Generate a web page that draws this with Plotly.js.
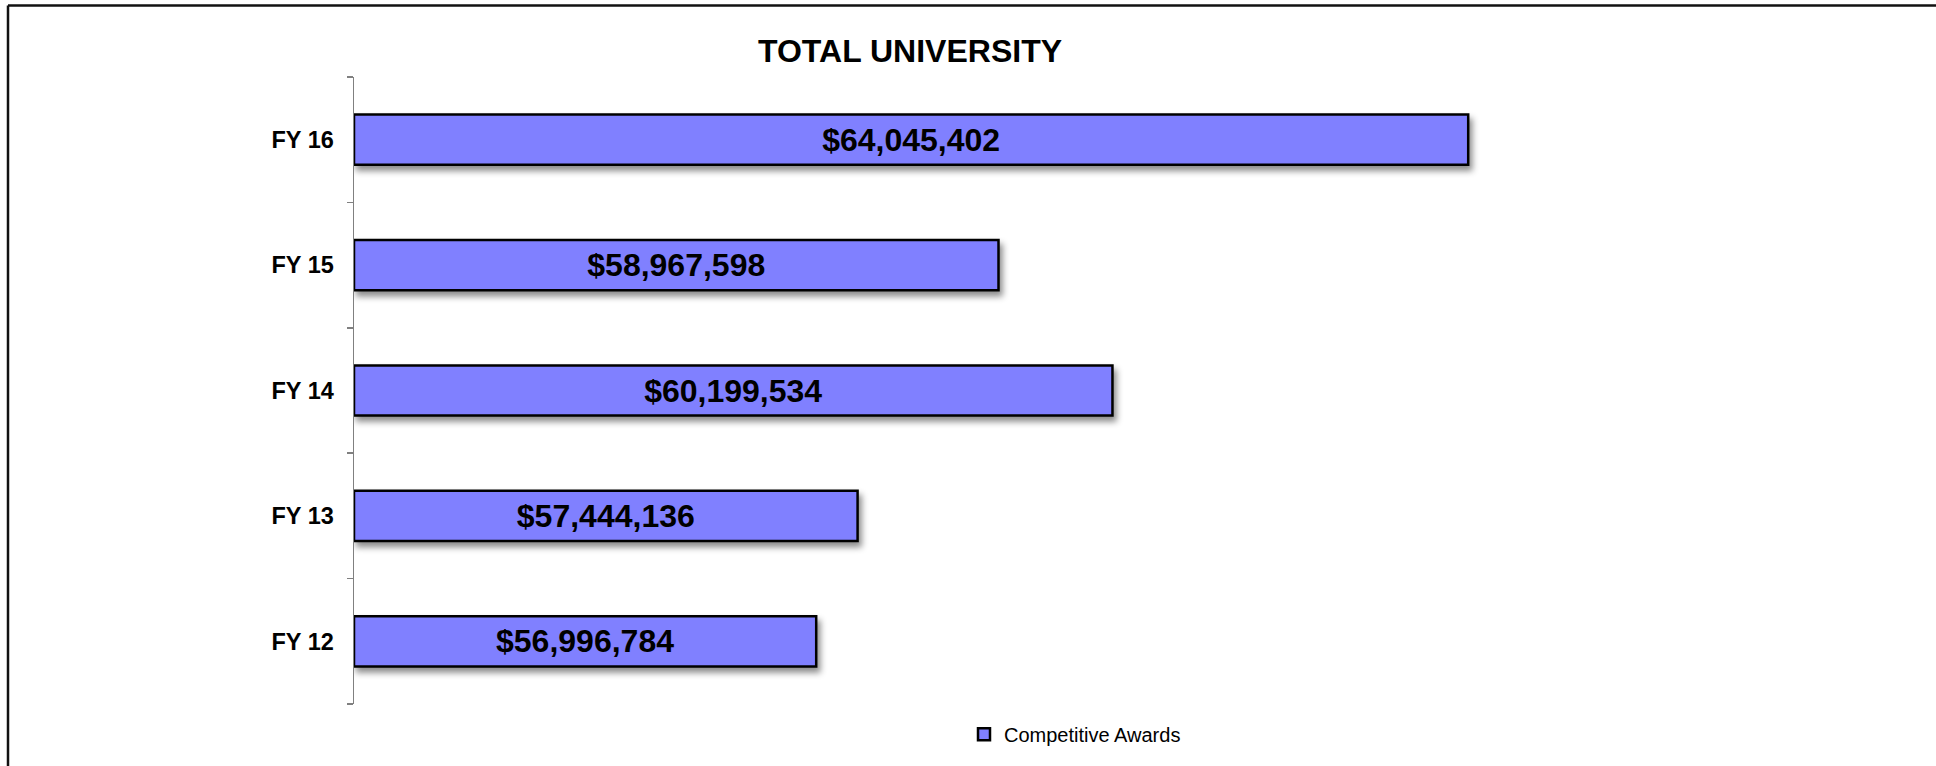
<!DOCTYPE html>
<html>
<head>
<meta charset="utf-8">
<script src="https://cdn.plot.ly/plotly-3.0.1.min.js"></script>
<style>
  html, body { margin: 0; padding: 0; background: #fff; }
  #chart { width: 1936px; height: 766px; }
  .barlayer .point path { filter: drop-shadow(3px 5px 3px rgba(0,0,0,0.45)); }
</style>
</head>
<body>
<div id="chart"></div>
<script>
const categories = ['FY 12', 'FY 13', 'FY 14', 'FY 15', 'FY 16'];
const competitiveAwards = [56996784, 57444136, 60199534, 58967598, 64045402];
const seriesName = 'Competitive Awards';
const chartTitle = 'TOTAL UNIVERSITY';
const axisMin = 52000000;
const axisMax = 68000000;

const FONT = 'Liberation Sans, Arial, sans-serif';

const labels = competitiveAwards.map(v => '$' + v.toLocaleString('en-US'));

const M = { l: 354, r: 102, t: 77, b: 45 };
const plotH = 766 - M.t - M.b;
const plotW = 1936 - M.l - M.r;

// Bars start at the axis minimum (as in the original chart), so they end at each value.
const trace = {
  type: 'bar',
  orientation: 'h',
  name: seriesName,
  y: categories,
  base: axisMin,
  x: competitiveAwards.map(v => v - axisMin),
  marker: { color: '#8080FF', line: { color: '#000000', width: 2.5 } },
  text: labels,
  textposition: 'inside',
  insidetextanchor: 'middle',
  constraintext: 'none',
  textangle: 0,
  textfont: { family: FONT, size: 32, color: '#000000', weight: 'bold' },
  showlegend: true,
  hoverinfo: 'skip'
};

const layout = {
  width: 1936,
  height: 766,
  margin: M,
  paper_bgcolor: '#ffffff',
  plot_bgcolor: '#ffffff',
  font: { family: FONT, color: '#000' },
  title: {
    text: chartTitle,
    font: { family: FONT, size: 32, color: '#000', weight: 'bold' },
    xref: 'container', x: 910 / 1936, xanchor: 'center',
    yref: 'container', y: 1 - 51 / 766, yanchor: 'middle'
  },
  bargap: 0.6,
  xaxis: {
    range: [axisMin, axisMax],
    visible: false,
    showgrid: false,
    zeroline: false,
    fixedrange: true
  },
  yaxis: {
    type: 'category',
    showline: true,
    linecolor: '#808080',
    linewidth: 1.5,
    ticks: 'outside',
    tickson: 'boundaries',
    ticklen: 6,
    tickwidth: 1.5,
    tickcolor: '#808080',
    ticklabelstandoff: 14,
    showgrid: false,
    zeroline: false,
    tickfont: { family: FONT, size: 23.5, color: '#000', weight: 'bold' },
    fixedrange: true
  },
  showlegend: true,
  legend: {
    orientation: 'h',
    x: (964 - M.l) / plotW, xanchor: 'left',
    y: ((766 - M.b) - 752) / plotH, yanchor: 'middle',
    font: { family: FONT, size: 20, color: '#000' },
    bgcolor: 'rgba(0,0,0,0)'
  },
  shapes: [
    { type: 'line', xref: 'paper', yref: 'paper',
      x0: (8 - M.l) / plotW, x1: (1960 - M.l) / plotW,
      y0: 1 + (M.t - 3.5) / plotH, y1: 1 + (M.t - 3.5) / plotH,
      line: { color: '#111', width: 2.5 } },
    { type: 'line', xref: 'paper', yref: 'paper',
      x0: (8 - M.l) / plotW, x1: (8 - M.l) / plotW,
      y0: 1 + (M.t - 3.5) / plotH, y1: -0.2,
      line: { color: '#111', width: 2.5 } }
  ]
};

Plotly.newPlot('chart', [trace], layout, { staticPlot: true, displayModeBar: false });
</script>
</body>
</html>
